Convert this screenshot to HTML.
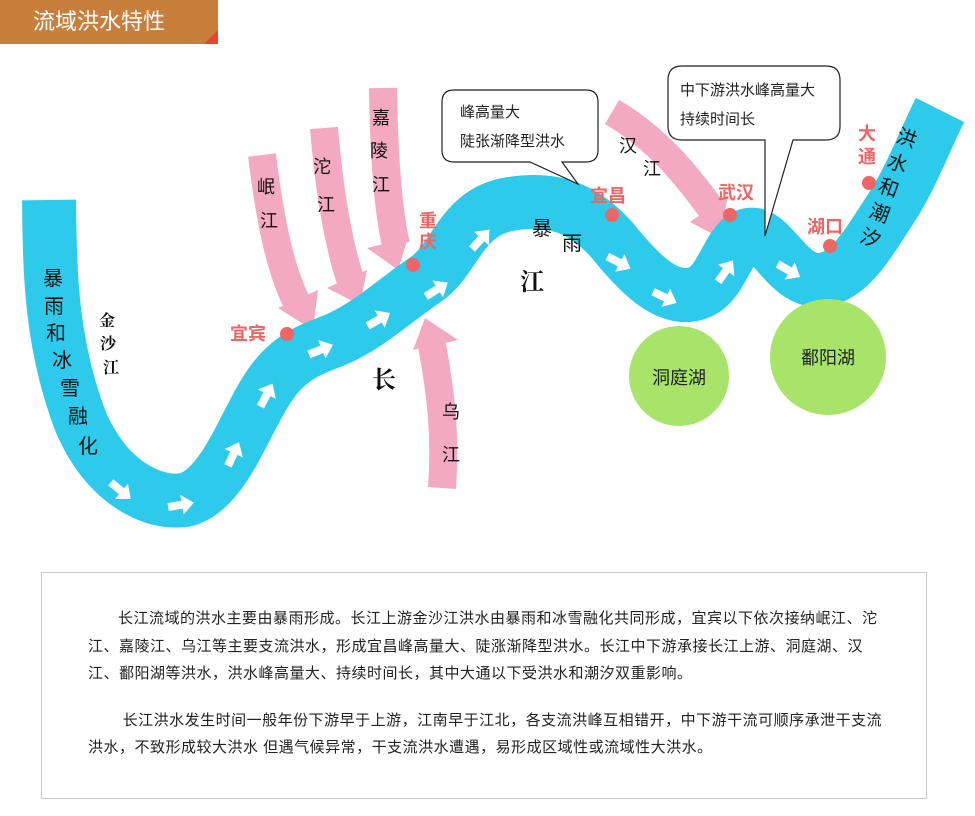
<!DOCTYPE html>
<html><head><meta charset="utf-8"><style>
body{margin:0;background:#fff;width:975px;height:816px;overflow:hidden;font-family:"Liberation Sans","Noto Sans CJK SC",sans-serif;}
.hdr{position:absolute;left:0;top:0;width:218px;height:44px;background:#c97f3c;color:#fff;font-size:22px;line-height:44px;padding-left:33px;box-sizing:border-box;}
.box{position:absolute;left:41px;top:572px;width:886px;height:227px;border:1px solid #ccc;box-sizing:border-box;font-size:15px;letter-spacing:0.5px;color:#222;line-height:27.5px;padding:32px 34px 0 46px;}
.box p{margin:0 0 19px 0;text-indent:30px;}
svg{position:absolute;left:0;top:0;}
</style></head><body>
<div class="hdr">流域洪水特性</div>
<svg width="975" height="816" viewBox="0 0 975 816" font-family="Liberation Sans, Noto Sans CJK SC, sans-serif">
<polygon points="218,30 218,44 204,44" fill="#e8452e"/>
<g fill="none" stroke="#f3aac0" stroke-width="28">
<path d="M262,155 C270,220 280,270 298,305"/>
<path d="M324,128 C330,200 340,250 352,285"/>
<path d="M383,88 C384,160 388,210 396,245"/>
<path d="M442,488 C446,430 440,390 432,345"/>
<path d="M612,112 C660,140 690,180 712,210"/>
</g>
<g fill="#f3aac0">
<polygon points="278,308 318,290 313,330"/>
<polygon points="327,288 367,270 360,305"/>
<polygon points="367,248 408,238 398,270"/>
<polygon points="425,318 413,350 458,340"/>
<polygon points="690,222 728,195 720,238"/>
</g>
<path d="M49,200 C50,270 50,340 80,420 C105,480 150,505 185,500 C225,490 245,420 270,385 C290,355 315,348 335,340 C370,325 395,300 425,280 C455,260 460,215 505,205 C555,195 585,210 612,240 C640,275 670,305 700,292 C725,282 730,230 755,235 C775,240 790,282 820,280 C850,278 870,240 890,210 C910,180 925,140 940,110" fill="none" stroke="#2ecaeb" stroke-width="54"/>
<g fill="#fff">
<g transform="translate(120,490) rotate(40)"><polygon points="-12,-4 2,-4 2,-10 14,0 2,10 2,4 -12,4"/></g>
<g transform="translate(180,505) rotate(-10)"><polygon points="-12,-4 2,-4 2,-10 14,0 2,10 2,4 -12,4"/></g>
<g transform="translate(233,455) rotate(-65)"><polygon points="-12,-4 2,-4 2,-10 14,0 2,10 2,4 -12,4"/></g>
<g transform="translate(266,396) rotate(-62)"><polygon points="-12,-4 2,-4 2,-10 14,0 2,10 2,4 -12,4"/></g>
<g transform="translate(320,350) rotate(-22)"><polygon points="-12,-4 2,-4 2,-10 14,0 2,10 2,4 -12,4"/></g>
<g transform="translate(378,320) rotate(-30)"><polygon points="-12,-4 2,-4 2,-10 14,0 2,10 2,4 -12,4"/></g>
<g transform="translate(436,290) rotate(-32)"><polygon points="-12,-4 2,-4 2,-10 14,0 2,10 2,4 -12,4"/></g>
<g transform="translate(480,240) rotate(-48)"><polygon points="-12,-4 2,-4 2,-10 14,0 2,10 2,4 -12,4"/></g>
<g transform="translate(618,262) rotate(28)"><polygon points="-12,-4 2,-4 2,-10 14,0 2,10 2,4 -12,4"/></g>
<g transform="translate(664,297) rotate(25)"><polygon points="-12,-4 2,-4 2,-10 14,0 2,10 2,4 -12,4"/></g>
<g transform="translate(725,272) rotate(-55)"><polygon points="-12,-4 2,-4 2,-10 14,0 2,10 2,4 -12,4"/></g>
<g transform="translate(788,270) rotate(30)"><polygon points="-12,-4 2,-4 2,-10 14,0 2,10 2,4 -12,4"/></g>
</g>
<circle cx="679" cy="376" r="50" fill="#a8e46a"/>
<circle cx="828" cy="357" r="58" fill="#a8e46a"/>
<text x="679" y="384" font-size="18" text-anchor="middle" fill="#222">洞庭湖</text>
<text x="828" y="364" font-size="18" text-anchor="middle" fill="#222">鄱阳湖</text>
<path d="M454,90 H586 Q598,90 598,102 V150 Q598,162 586,162 H562 L578,184 L530,162 H454 Q442,162 442,150 V102 Q442,90 454,90 Z" fill="#fff" stroke="#222" stroke-width="1.2"/>
<text x="460" y="117" font-size="15" fill="#222">峰高量大</text>
<text x="460" y="146" font-size="15" fill="#222">陡张渐降型洪水</text>
<path d="M682,66 H826 Q840,66 840,80 V126 Q840,140 826,140 H793 L765,236 L765,140 H682 Q668,140 668,126 V80 Q668,66 682,66 Z" fill="#fff" stroke="#222" stroke-width="1.2"/>
<text x="680" y="95" font-size="15" fill="#222">中下游洪水峰高量大</text>
<text x="680" y="124" font-size="15" fill="#222">持续时间长</text>
<g font-size="20" fill="#111" text-anchor="middle">
<text x="53" y="285">暴</text><text x="54" y="313">雨</text><text x="56" y="340">和</text><text x="62" y="367">冰</text><text x="70" y="395">雪</text><text x="78" y="423">融</text><text x="88" y="453">化</text>
<text x="906" y="145" transform="rotate(20 906 140)">洪</text>
<text x="897" y="170" transform="rotate(20 897 165)">水</text>
<text x="888" y="195" transform="rotate(20 888 190)">和</text>
<text x="879" y="220" transform="rotate(20 879 215)">潮</text>
<text x="870" y="245" transform="rotate(20 870 240)">汐</text>
<text x="542" y="235">暴</text><text x="572" y="250">雨</text>
</g>
<g font-size="18" fill="#111" text-anchor="middle">
<text x="266" y="193">岷</text><text x="269" y="227">江</text>
<text x="322" y="173">沱</text><text x="326" y="211">江</text>
<text x="381" y="124">嘉</text><text x="379" y="157">陵</text><text x="381" y="191">江</text>
<text x="451" y="418">乌</text><text x="451" y="461">江</text>
<text x="628" y="152">汉</text><text x="652" y="175">江</text>
</g>
<g font-family="Liberation Serif, Noto Serif CJK SC, serif" font-weight="bold" fill="#111" text-anchor="middle">
<text x="107" y="326" font-size="16">金</text><text x="108" y="349" font-size="16">沙</text><text x="111" y="373" font-size="16">江</text>
<text x="384" y="388" font-size="24">长</text>
<text x="532" y="290" font-size="24">江</text>
</g>
<g fill="#ef6464" font-size="18" font-weight="bold">
<text x="230" y="340">宜宾</text>
<text x="419" y="227">重</text><text x="419" y="248">庆</text>
<text x="590" y="202">宜昌</text>
<text x="718" y="199">武汉</text>
<text x="807" y="233">湖口</text>
<text x="858" y="140">大</text><text x="858" y="163">通</text>
<circle cx="287" cy="334" r="7"/><circle cx="413" cy="265" r="7"/>
<circle cx="612" cy="215" r="7"/><circle cx="730" cy="215" r="7"/>
<circle cx="830" cy="246" r="7"/><circle cx="869" cy="183" r="7"/>
</g>
</svg>
<div class="box">
<p>长江流域的洪水主要由暴雨形成。长江上游金沙江洪水由暴雨和冰雪融化共同形成，宜宾以下依次接纳岷江、沱江、嘉陵江、乌江等主要支流洪水，形成宜昌峰高量大、陡涨渐降型洪水。长江中下游承接长江上游、洞庭湖、汉江、鄱阳湖等洪水，洪水峰高量大、持续时间长，其中大通以下受洪水和潮汐双重影响。</p>
<p>&nbsp;长江洪水发生时间一般年份下游早于上游，江南早于江北，各支流洪峰互相错开，中下游干流可顺序承泄干支流洪水，不致形成较大洪水 但遇气候异常，干支流洪水遭遇，易形成区域性或流域性大洪水。</p>
</div>
</body></html>
